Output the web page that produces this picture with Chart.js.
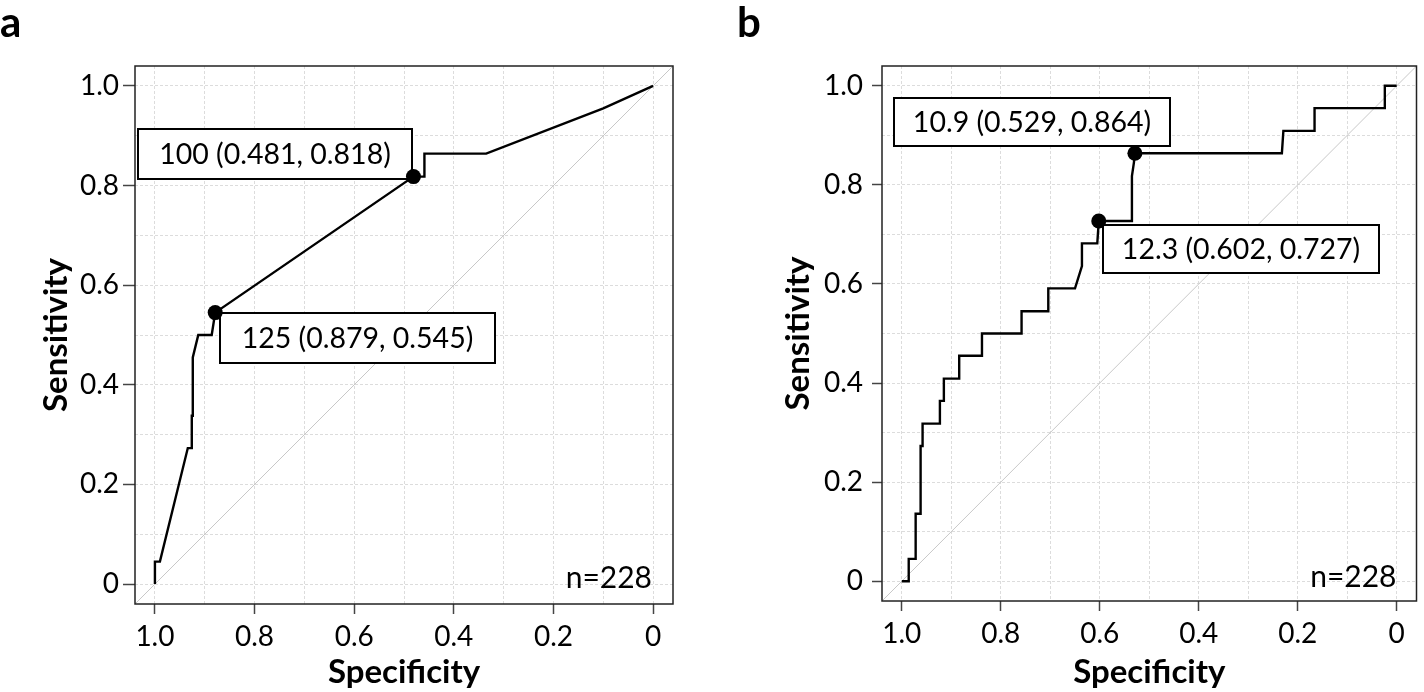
<!DOCTYPE html>
<html><head><meta charset="utf-8">
<script src="https://cdn.jsdelivr.net/npm/chart.js@4/dist/chart.umd.min.js"></script>
<style>
html,body{margin:0;padding:0;background:#fff;}
#wrap{position:relative;width:1424px;height:692px;overflow:hidden;background:#fff;}
.panel{position:absolute;top:0;width:712px;height:692px;}
canvas{display:block;}
</style></head><body>
<div id="wrap">
<div class="panel" style="left:0"><canvas id="ca" width="712" height="692"></canvas></div>
<div class="panel" style="left:712px"><canvas id="cb" width="712" height="692"></canvas></div>
</div>
<script>
// ---------- data ----------
const gridValues = [0, 0.1, 0.2, 0.3, 0.4, 0.5, 0.6, 0.7, 0.8, 0.9, 1.0];
const labelledTicks = [0, 0.2, 0.4, 0.6, 0.8, 1.0];
const axisMin = -0.04, axisMax = 1.04;
const diagonalSpec = [1.04, -0.04];
const diagonalSens = [-0.04, 1.04];

const panelLetters = ['a', 'b'];
const sampleSizes = [228, 228];

const specA = [1.0, 1.0, 0.99, 0.934, 0.926, 0.926, 0.924, 0.924, 0.913, 0.886, 0.879, 0.481, 0.459, 0.459, 0.335, 0.1, 0.0];
const sensA = [0, 0.045, 0.045, 0.273, 0.273, 0.338, 0.338, 0.455, 0.5, 0.5, 0.545, 0.818, 0.818, 0.864, 0.864, 0.955, 1.0];
const cutLabelA = ['100', '125'];
const cutSpecA = [0.481, 0.879];
const cutSensA = [0.818, 0.545];

const specB = [1.0, 0.986, 0.986, 0.972, 0.972, 0.962, 0.962, 0.958, 0.958, 0.923, 0.923, 0.915, 0.915, 0.884, 0.884, 0.838, 0.838, 0.758, 0.758, 0.704, 0.704, 0.650, 0.636, 0.636, 0.605, 0.602, 0.535, 0.535, 0.531, 0.529, 0.232, 0.229, 0.166, 0.166, 0.024, 0.024, 0.0];
const sensB = [0, 0, 0.045, 0.045, 0.136, 0.136, 0.273, 0.273, 0.318, 0.318, 0.364, 0.364, 0.409, 0.409, 0.455, 0.455, 0.5, 0.5, 0.545, 0.545, 0.591, 0.591, 0.636, 0.682, 0.682, 0.727, 0.727, 0.818, 0.845, 0.864, 0.864, 0.909, 0.909, 0.955, 0.955, 1.0, 1.0];
const cutLabelB = ['10.9', '12.3'];
const cutSpecB = [0.529, 0.602];
const cutSensB = [0.864, 0.727];

// ---------- styling / layout ----------
const FONT = 'Lato, "Open Sans", sans-serif';
const isLabelled = v => labelledTicks.some(t => Math.abs(t - v) < 1e-9);
const fmt = v => isLabelled(v) ? (Math.abs(v) < 1e-9 ? '0' : v.toFixed(1)) : '';
const pts = (xs, ys) => xs.map((s, i) => ({x: s, y: ys[i]}));

const panels = [
  {id: 'ca', letter: panelLetters[0], n: sampleSizes[0], spec: specA, sens: sensA,
   cutLabel: cutLabelA, cutSpec: cutSpecA, cutSens: cutSensA,
   padTop: 66, padRight: 39, yW: 135, xH: 88, yTickLen: 12, yTickPad: 4, yTitlePad: 39, xTitlePad: 0,
   boxes: [[-275, -1, -48, 2], [5, 280, 0, 50]], letterX: 0, nDx: -21, nDy: -16},
  {id: 'cb', letter: panelLetters[1], n: sampleSizes[1], spec: specB, sens: sensB,
   cutLabel: cutLabelB, cutSpec: cutSpecB, cutSens: cutSensB,
   padTop: 66, padRight: 7, yW: 170, xH: 91, yTickLen: 10, yTickPad: 9, yTitlePad: 69, xTitlePad: 0,
   boxes: [[-241, 35, -55, -7], [4, 280, 4, 52]], letterX: 25, nDx: -20, nDy: -14}
];

function overlayPlugin(cfg) {
  return {
    id: 'overlay_' + cfg.letter,
    afterDatasetDraw(chart, args) {
      if (args.index !== 0) return; // draw label boxes right after the diagonal
      const {ctx, scales: {x, y}} = chart;
      ctx.save();
      cfg.cutLabel.forEach((lab, i) => {
        const px = x.getPixelForValue(cfg.cutSpec[i]);
        const py = y.getPixelForValue(cfg.cutSens[i]);
        const b = cfg.boxes[i];
        const x0 = Math.round(px + b[0]), x1 = Math.round(px + b[1]);
        const y0 = Math.round(py + b[2]), y1 = Math.round(py + b[3]);
        ctx.fillStyle = '#fff';
        ctx.fillRect(x0, y0, x1 - x0, y1 - y0);
        ctx.strokeStyle = '#000';
        ctx.lineWidth = 2;
        ctx.strokeRect(x0, y0, x1 - x0, y1 - y0);
        ctx.fillStyle = '#000';
        ctx.font = '28.5px ' + FONT;
        ctx.textAlign = 'center';
        ctx.textBaseline = 'middle';
        const txt = lab + ' (' + cfg.cutSpec[i].toFixed(3) + ', ' + cfg.cutSens[i].toFixed(3) + ')';
        ctx.fillText(txt, (x0 + x1) / 2, (y0 + y1) / 2 + 1);
      });
      ctx.restore();
    },
    afterDatasetsDraw(chart) {
      const {ctx, chartArea: a} = chart;
      ctx.save();
      ctx.strokeStyle = '#222';
      ctx.lineWidth = 1.5;
      ctx.strokeRect(a.left, a.top, a.right - a.left, a.bottom - a.top);
      ctx.fillStyle = '#000';
      ctx.font = '30px ' + FONT;
      ctx.textAlign = 'right';
      ctx.textBaseline = 'alphabetic';
      ctx.fillText('n=' + cfg.n, a.right + cfg.nDx, a.bottom + cfg.nDy);
      ctx.font = 'bold 42px ' + FONT;
      ctx.textAlign = 'left';
      ctx.fillText(cfg.letter, cfg.letterX, 37);
      ctx.restore();
    }
  };
}

function makeChart(cfg) {
  const tickColor = c => (c.tick && isLabelled(c.tick.value)) ? '#444' : 'rgba(0,0,0,0)';
  return new Chart(document.getElementById(cfg.id), {
    type: 'scatter',
    data: {datasets: [
      {data: pts(diagonalSpec, diagonalSens), showLine: true, borderColor: '#c8c8c8', borderWidth: 1, pointRadius: 0, order: 3},
      {data: pts(cfg.spec, cfg.sens), showLine: true, borderColor: '#000', borderWidth: 2.4, pointRadius: 0, tension: 0, order: 2},
      {data: pts(cfg.cutSpec, cfg.cutSens), showLine: false, pointRadius: 7.5, backgroundColor: '#000', borderColor: '#000', borderWidth: 0, order: 1}
    ]},
    options: {
      responsive: false, animation: false, events: [],
      layout: {padding: {left: 0, top: cfg.padTop, right: cfg.padRight, bottom: 0}},
      plugins: {legend: {display: false}, tooltip: {enabled: false}},
      scales: {
        x: {type: 'linear', reverse: true, min: axisMin, max: axisMax,
          afterBuildTicks: ax => { ax.ticks = gridValues.map(v => ({value: v})); },
          afterFit: ax => { ax.height = cfg.xH; },
          grid: {color: '#dcdcdc', lineWidth: 1, tickLength: 10, tickWidth: 1.5, tickColor: tickColor},
          border: {display: false, dash: [3, 2]},
          ticks: {autoSkip: false, maxRotation: 0, minRotation: 0, padding: 6, color: '#000',
            font: {family: FONT, size: 28}, callback: v => fmt(v)},
          title: {display: true, text: 'Specificity', color: '#000',
            font: {family: FONT, size: 33, weight: 'bold'}, padding: {top: 0, bottom: cfg.xTitlePad}}
        },
        y: {type: 'linear', min: axisMin, max: axisMax,
          afterBuildTicks: ax => { ax.ticks = gridValues.map(v => ({value: v})); },
          afterFit: ax => { ax.width = cfg.yW; },
          grid: {color: '#dcdcdc', lineWidth: 1, tickLength: cfg.yTickLen, tickWidth: 1.5, tickColor: tickColor},
          border: {display: false, dash: [3, 2]},
          ticks: {autoSkip: false, padding: cfg.yTickPad, color: '#000',
            font: {family: FONT, size: 28}, callback: v => fmt(v)},
          title: {display: true, text: 'Sensitivity', color: '#000',
            font: {family: FONT, size: 33, weight: 'bold'}, padding: {top: cfg.yTitlePad - 2, bottom: 0}}
        }
      }
    },
    plugins: [overlayPlugin(cfg)]
  });
}

panels.forEach(makeChart);
</script>
</body></html>
